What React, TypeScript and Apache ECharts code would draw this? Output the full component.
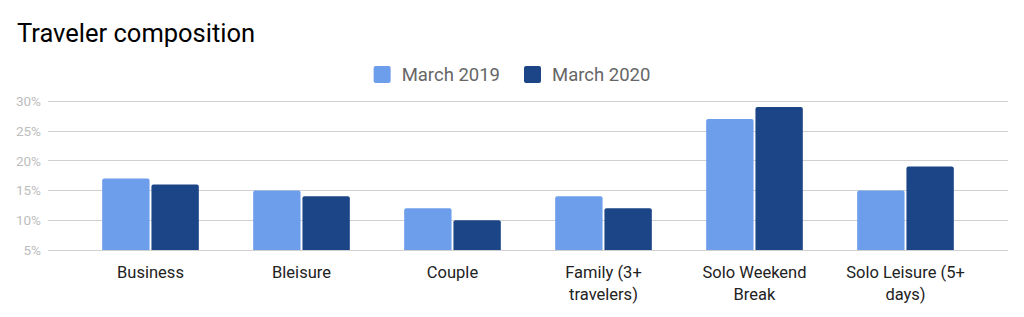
import React, { useEffect, useRef } from "react";
import * as echarts from "echarts";

const categories = [
  "Business",
  "Bleisure",
  "Couple",
  "Family (3+\ntravelers)",
  "Solo Weekend\nBreak",
  "Solo Leisure (5+\ndays)",
];
const seriesNames = ["March 2019", "March 2020"];
const march2019 = [17, 15, 12, 14, 27, 15];
const march2020 = [16, 14, 10, 12, 29, 19];
const yMin = 5;
const yMax = 30;
const yStep = 5;

export default function App() {
  const ref = useRef<HTMLDivElement>(null);
  useEffect(() => {
    document.body.style.margin = "0";
    const chart = echarts.init(ref.current!, null, { renderer: "svg" });
    const font = "Roboto, Arial, sans-serif";
    chart.setOption({
      animation: false,
      title: {
        text: "Traveler composition",
        left: 12,
        top: 15,
        textStyle: { fontFamily: font, fontSize: 25.5, fontWeight: "normal", color: "#000" },
      },
      legend: {
        data: seriesNames,
        left: "center",
        top: 60,
        itemWidth: 17,
        itemHeight: 17,
        itemGap: 24,
        icon: "path://M2,0H15Q17,0 17,2V15Q17,17 15,17H2Q0,17 0,15V2Q0,0 2,0Z",
        textStyle: { fontFamily: font, fontSize: 18.5, color: "#666", padding: [0, 0, 0, 6] },
      },
      grid: [
        { left: 48, right: 16, top: 101, bottom: 67 },
        { left: 75, right: 43, top: 101, bottom: 67 },
      ],
      xAxis: [
        { type: "category", gridIndex: 0, data: categories, show: false },
        {
          type: "category",
          gridIndex: 1,
          data: categories,
          axisLine: { show: false },
          axisTick: { show: false },
          axisLabel: {
            fontFamily: font,
            fontSize: 16.5,
            color: "#222",
            margin: 11,
            lineHeight: 22,
            interval: 0,
          },
        },
      ],
      yAxis: [
        {
          type: "value",
          gridIndex: 0,
          min: yMin,
          max: yMax,
          interval: yStep,
          axisLine: { show: false },
          axisTick: { show: false },
          splitLine: { lineStyle: { color: "#d0d0d0", width: 1 } },
          axisLabel: {
            formatter: "{value}%",
            fontFamily: font,
            fontSize: 13.5,
            color: "#bdbdbd",
            margin: 7,
          },
        },
        {
          type: "value",
          gridIndex: 1,
          min: yMin,
          max: yMax,
          interval: yStep,
          show: false,
          splitLine: { show: false },
        },
      ],
      series: [
        {
          name: seriesNames[0],
          type: "bar",
          xAxisIndex: 1,
          yAxisIndex: 1,
          data: march2019,
          barCategoryGap: "36%",
          barGap: "4%",
          itemStyle: { color: "#6d9eeb", borderRadius: [2, 2, 0, 0] },
        },
        {
          name: seriesNames[1],
          type: "bar",
          xAxisIndex: 1,
          yAxisIndex: 1,
          data: march2020,
          barCategoryGap: "36%",
          barGap: "4%",
          itemStyle: { color: "#1c4587", borderRadius: [2, 2, 0, 0] },
        },
      ],
    });
    return () => chart.dispose();
  }, []);
  return <div ref={ref} style={{ width: 1024, height: 317 }} />;
}
